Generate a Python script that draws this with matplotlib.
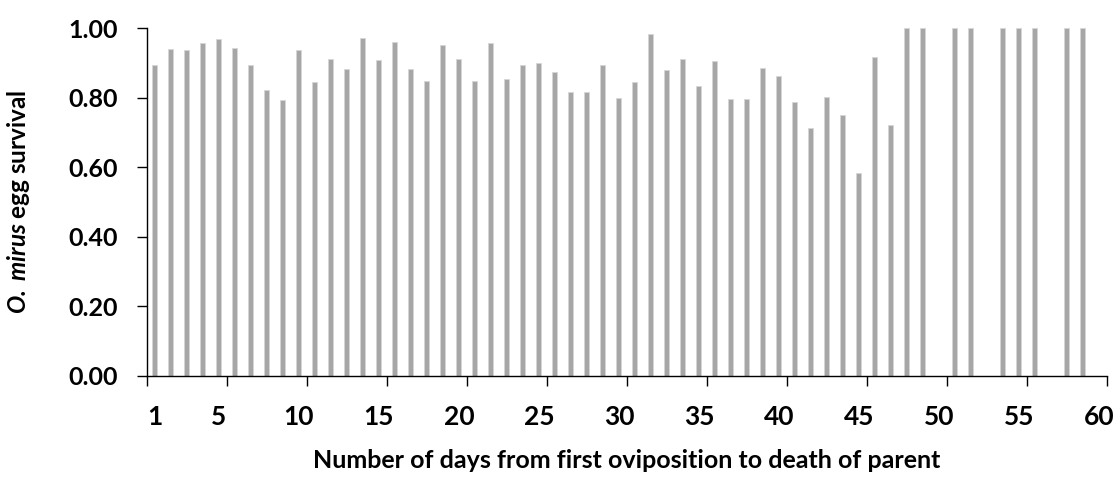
import numpy as np
import matplotlib
matplotlib.use('Agg')
import matplotlib.pyplot as plt

plt.rcParams['font.family'] = ['Lato', 'DejaVu Sans']
plt.rcParams['font.weight'] = 'bold'
plt.rcParams['mathtext.fontset'] = 'custom'
plt.rcParams['mathtext.bfit'] = 'Lato:italic:bold'
plt.rcParams['mathtext.rm'] = 'Lato:bold'

### Egg survival per day (nan = no eggs that day)
days = np.arange(1, 61)
survival = [0.895, 0.939, 0.936, 0.956, 0.968, 0.942, 0.893, 0.821, 0.792, 0.938,
            0.845, 0.910, 0.881, 0.970, 0.909, 0.960, 0.882, 0.849, 0.951, 0.911,
            0.849, 0.956, 0.852, 0.894, 0.899, 0.873, 0.816, 0.815, 0.895, 0.799,
            0.844, 0.983, 0.878, 0.911, 0.833, 0.905, 0.797, 0.796, 0.885, 0.862,
            0.786, 0.713, 0.801, 0.750, 0.583, 0.917, 0.721, 1.000, 1.000, np.nan,
            1.000, 1.000, np.nan, 1.000, 1.000, 1.000, np.nan, 1.000, 1.000, np.nan]
tick_days = [1, 5, 10, 15, 20, 25, 30, 35, 40, 45, 50, 55, 60]
y_ticks = [0.0, 0.2, 0.4, 0.6, 0.8, 1.0]

fig = plt.figure(figsize=(11.15, 4.78), dpi=100)
ax = fig.add_axes([0.1318, 0.214, 0.861, 0.7274])

ax.bar(days, survival, width=0.31, color='#a6a6a6', edgecolor='#d6d6d6', linewidth=0.6)

ax.set_xlim(0.5, 60.5)
ax.set_ylim(0, 1)

# tick marks between groups of five days, day labels set lower under the axis
ax.set_xticks(np.arange(0.5, 61, 5))
ax.set_xticklabels([])
ax.tick_params(axis='x', length=7, width=1, direction='out')
for d in tick_days:
    ax.text(d, -0.083, str(d), transform=ax.get_xaxis_transform(),
            ha='center', va='top', fontsize=19, fontweight='bold')

ax.set_yticks(y_ticks)
ax.set_yticklabels(['%.2f' % v for v in y_ticks])
ax.tick_params(axis='y', length=7, width=1, direction='out', labelsize=18, pad=14)

for s in ['top', 'right']:
    ax.spines[s].set_visible(False)
for s in ['left', 'bottom']:
    ax.spines[s].set_linewidth(1)

ax.set_xlabel('Number of days from first oviposition to death of parent',
              fontsize=18, fontweight='bold')
ax.xaxis.set_label_coords(0.5, -0.21)
ax.set_ylabel(r'$\mathbfit{O.\,mirus}$ egg survival', fontsize=17.5, fontweight='bold')
ax.yaxis.set_label_coords(-0.12, 0.5)

fig.savefig('out.png', dpi=100)
